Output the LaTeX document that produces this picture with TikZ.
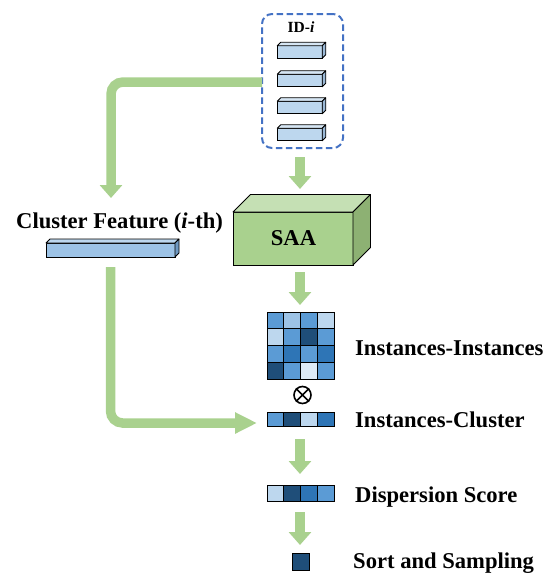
\documentclass[tikz,border=0pt]{standalone}
\usepackage{fontspec}
\setmainfont{Liberation Serif}
\usetikzlibrary{arrows.meta,calc}
\definecolor{gA}{HTML}{A9D18E}
\definecolor{gTop}{HTML}{C5E0B4}
\definecolor{gSide}{HTML}{8DB173}
\definecolor{dblue}{HTML}{4472C4}
\definecolor{cA}{HTML}{5B9BD5}
\definecolor{cB}{HTML}{9DC3E6}
\definecolor{cC}{HTML}{BDD7EE}
\definecolor{cD}{HTML}{1F4E79}
\definecolor{cE}{HTML}{2E75B6}
\definecolor{cF}{HTML}{DEEBF7}
\definecolor{bTop}{HTML}{D6E6F4}
\definecolor{bSide}{HTML}{9BB9D6}
\definecolor{kTop}{HTML}{BDD7EE}
\definecolor{kSide}{HTML}{6F99C2}
\newcommand\cubefaces[4]{%
  \filldraw[fill=#3,draw=black,line width=0.8pt,line join=round]
    (#1.north west) -- ++(#2,-#2) -- ($(#1.north east)+(#2,-#2)$) -- (#1.north east) -- cycle;
  \filldraw[fill=#4,draw=black,line width=0.8pt,line join=round]
    (#1.north east) -- ++(#2,-#2) -- ($(#1.south east)+(#2,-#2)$) -- (#1.south east) -- cycle;
}
\begin{document}
\begin{tikzpicture}[x=1pt,y=-1pt,
  face/.style={draw=black,line width=0.8pt,inner sep=0,outer sep=0},
  lab/.style={anchor=base west,inner sep=0,font=\fontsize{22.6}{27}\selectfont\bfseries},
  garrow/.style={draw=gA,line width=9.5pt,-{Triangle[width=22pt,length=13pt]}},
  cellbox/.style={draw=black,line width=0.8pt}]
\useasboundingbox (0,0) rectangle (549,574);

% ID box
\node[draw=dblue,line width=2pt,dash pattern=on 6.5pt off 3.5pt,rounded corners=10pt,
      minimum width=81,minimum height=134,inner sep=0,outer sep=0] (idbox) at (302.5,81) {};
\node[anchor=base,inner sep=0,font=\fontsize{15.5}{18}\selectfont\bfseries] (idlab) at (301,32) {ID-\textit{i}};
\foreach \n/\yy in {b1/52,b2/80.5,b3/107.5,b4/134.5}{
  \node[face,fill=cC,minimum width=45,minimum height=12.5] (\n) at (299.75,\yy) {};
  \cubefaces{\n}{3.5}{bTop}{bSide}
}

% Cluster feature
\node[lab] (cflab) at (16,228) {Cluster Feature (\textit{i}-th)};
\node[face,fill=cB,minimum width=129,minimum height=14] (cbar) at (110.5,250) {};
\cubefaces{cbar}{4}{kTop}{kSide}

% SAA
\node[face,fill=gA,minimum width=120,minimum height=53] (saa) at (293,238.5) {};
\cubefaces{saa}{17.5}{gTop}{gSide}
\node[anchor=base,inner sep=0,font=\fontsize{22.6}{27}\selectfont\bfseries] (saalab) at (293.5,245) {SAA};

% Instances-Instances matrix
\foreach \row [count=\r from 0] in {{cA,cB,cA,cC},{cC,cA,cD,cA},{cA,cE,cA,cE},{cD,cA,cF,cA}}{
  \foreach \c [count=\k from 0] in \row {
    \filldraw[cellbox,fill=\c] (267+\k*16.75,312+\r*16.75) rectangle ++(16.75,16.75);
  }
}
\node[face,minimum size=67] (mat) at (300.5,345.5) {};
\node[lab] (iilab) at (355,355) {Instances-Instances};

% otimes
\node[draw=black,line width=1.6pt,circle,minimum size=17,inner sep=0] (ot) at (302.5,395) {};
\draw[line width=1.6pt] (ot.45) -- (ot.225) (ot.135) -- (ot.315);

% Instances-Cluster row
\foreach \c [count=\k from 0] in {cA,cD,cC,cE}{
  \filldraw[cellbox,fill=\c] (267+\k*16.75,412) rectangle ++(16.75,14);
}
\node[face,minimum width=67,minimum height=14] (ic) at (300.5,419) {};
\node[lab] (iclab) at (355,427) {Instances-Cluster};

% Dispersion row
\foreach \c [count=\k from 0] in {cC,cD,cE,cA}{
  \filldraw[cellbox,fill=\c] (267+\k*16.75,485) rectangle ++(16.75,16);
}
\node[face,minimum width=67,minimum height=16] (disp) at (300.5,493) {};
\node[lab] (dslab) at (355,502) {Dispersion Score};

% Sort square
\node[face,fill=cD,minimum size=17] (sort) at (300.5,561.5) {};
\node[lab] (sslab) at (353,568) {Sort and Sampling};

% arrows
\coordinate (cft) at (111,198);
\draw[garrow,rounded corners=12pt] ($(idbox.west)+(0,1)$) -| (cft);
\draw[garrow,-{Triangle[width=20pt,length=22pt]},rounded corners=12pt]
  ($(cbar.south)+(0,10)$) |- ($(ic.west)+(-10,4)$);
\draw[garrow] ($(idbox.south)+(-2.5,9)$) -- ++(0,32);
\draw[garrow] ($(mat.north)+(-0.5,-40)$) -- ($(mat.north)+(-0.5,-7)$);
\draw[garrow] ($(ic.south)+(-0.5,13)$) -- ($(disp.north)+(-0.5,-11)$);
\draw[garrow] ($(disp.south)+(-0.5,11)$) -- ($(sort.north)+(-0.5,-8)$);
\end{tikzpicture}
\end{document}
